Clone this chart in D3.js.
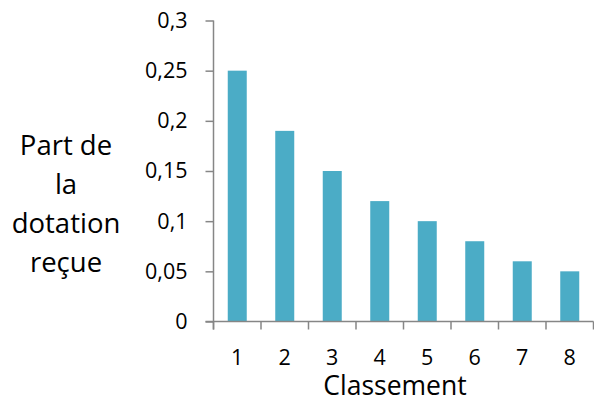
<!DOCTYPE html>
<html><head><meta charset="utf-8">
<script src="https://cdn.jsdelivr.net/npm/d3@7"></script>
<style>body{margin:0;background:#fff}svg{display:block}text{font-family:"Open Sans",sans-serif;fill:#000}</style>
</head><body>
<script>
const categories = ["1","2","3","4","5","6","7","8"];
const values = [0.25,0.19,0.15,0.12,0.10,0.08,0.06,0.05];
const yTicks = [0,0.05,0.1,0.15,0.2,0.25,0.3];
const yTitleLines = ["Part de","la","dotation","reçue"];
const xTitle = "Classement";

const W=594,H=405;
const svg=d3.select("body").append("svg").attr("width",W).attr("height",H);
const x=d3.scaleBand().domain(categories).range([213.5,593.5]).paddingInner(0.6).paddingOuter(0.3);
const y=d3.scaleLinear().domain([0,0.3]).range([321.5,20.5]);
const axisColor="#868686";
const fmt=d=>String(d).replace(".",",");

// bars
svg.selectAll("rect.bar").data(values).join("rect")
  .attr("x",(d,i)=>x(categories[i])).attr("width",x.bandwidth())
  .attr("y",d=>y(d)).attr("height",d=>y(0)-y(d))
  .attr("fill","#4BACC6");

// y axis
const yAxis=d3.axisLeft(y).tickValues(yTicks).tickSize(8).tickPadding(18).tickFormat(fmt);
const gy=svg.append("g").attr("transform","translate(213.5,0)").call(yAxis);
gy.select(".domain").attr("stroke",axisColor).attr("stroke-width",1.5).attr("d","M0,20.5V329.5");
gy.selectAll(".tick line").attr("stroke",axisColor).attr("stroke-width",1.5);
gy.selectAll(".tick text").attr("font-size",21.5).attr("font-family","Open Sans").attr("fill","#000");

// x axis
const step=x.step();
const gx=svg.append("g").attr("transform","translate(0,321.5)");
gx.append("line").attr("x1",205.5).attr("x2",593.5).attr("stroke",axisColor).attr("stroke-width",1.5);
const bounds=categories.map(c=>x(c)-x.paddingInner()*step/2);
bounds.push(x(categories[categories.length-1])+x.bandwidth()+x.paddingInner()*step/2);
gx.selectAll("line.tk").data(bounds).join("line").attr("class","tk")
  .attr("x1",d=>d).attr("x2",d=>d).attr("y1",0).attr("y2",8)
  .attr("stroke",axisColor).attr("stroke-width",1.5);
gx.selectAll("text.lab").data(categories).join("text").attr("class","lab")
  .attr("x",d=>x(d)+x.bandwidth()/2).attr("y",43).attr("text-anchor","middle")
  .attr("font-size",21.5).text(d=>d);

// titles
svg.append("text").attr("x",395).attr("y",395).attr("text-anchor","middle").attr("font-size",26.5).text(xTitle);
svg.append("g").selectAll("text").data(yTitleLines).join("text")
  .attr("x",66).attr("y",(d,i)=>155+i*39).attr("text-anchor","middle").attr("font-size",27.5).text(d=>d);
</script>
</body></html>
